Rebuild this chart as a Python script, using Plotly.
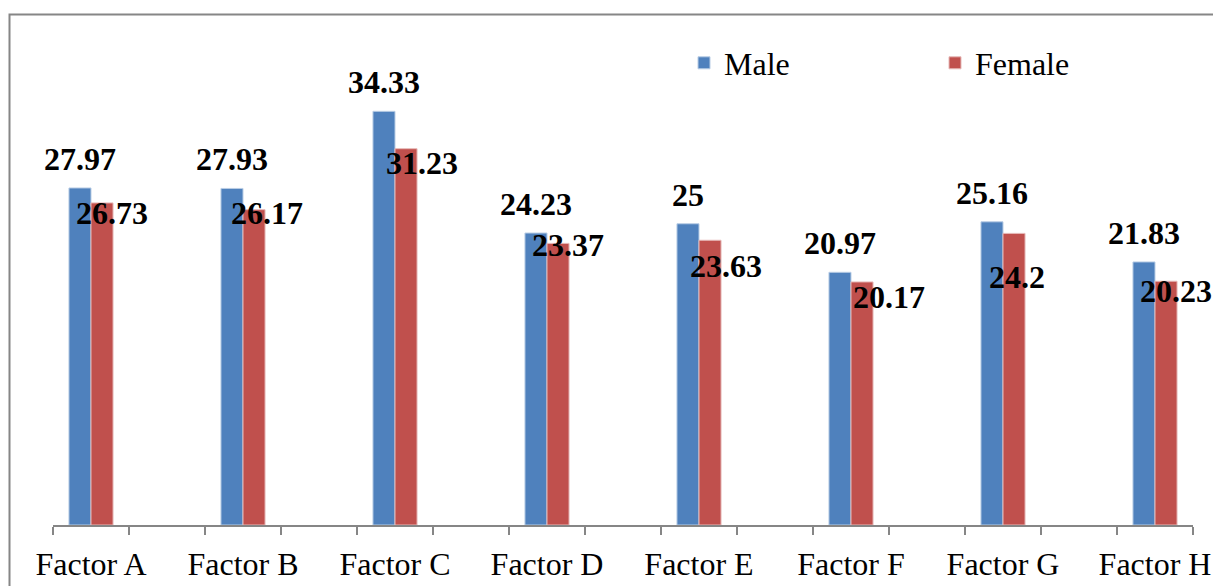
import plotly.graph_objects as go

# ---- data ----
categories = ["Factor A", "Factor B", "Factor C", "Factor D",
              "Factor E", "Factor F", "Factor G", "Factor H"]
male = [27.97, 27.93, 34.33, 24.23, 25, 20.97, 25.16, 21.83]
female = [26.73, 26.17, 31.23, 23.37, 23.63, 20.17, 24.2, 20.23]

# ---- label placement (pixel offsets, style only) ----
male_label_dy = [29] * 8
female_label_dx = [10, 13, 16, 10, 16, 27, 3, 10]
female_label_dy = [10, 3, 14, 2, 26, 15, 44, 10]

MALE_COLOR = "#4F81BD"
FEMALE_COLOR = "#C0504D"
AXIS_COLOR = "#868686"
FONT = "Liberation Serif"
FS = 32

# category order with blank spacer categories between factors
cat_order = []
for i, c in enumerate(categories):
    cat_order.append(c)
    if i < len(categories) - 1:
        cat_order.append(" " * (i + 1))

fig = go.Figure()
fig.add_trace(go.Bar(name="Male", x=categories, y=male,
                     marker=dict(color=MALE_COLOR, line=dict(color="#B9CDE5", width=1))))
fig.add_trace(go.Bar(name="Female", x=categories, y=female,
                     marker=dict(color=FEMALE_COLOR, line=dict(color="#E6B9B8", width=1))))

annotations = []
for i, c in enumerate(categories):
    annotations.append(dict(
        x=c, y=male[i], xref="x", yref="y", text=f"<b>{male[i]:g}</b>",
        showarrow=False, xshift=-11, yshift=male_label_dy[i],
        xanchor="center", yanchor="middle",
        font=dict(family=FONT, size=FS, color="black")))
    annotations.append(dict(
        x=c, y=female[i], xref="x", yref="y", text=f"<b>{female[i]:g}</b>",
        showarrow=False, xshift=11 + female_label_dx[i], yshift=-female_label_dy[i],
        xanchor="center", yanchor="middle",
        font=dict(family=FONT, size=FS, color="black")))

# page body has an 8px default margin, so figure coords = screen coords - 8
W, H = 1221, 586
ML, MR, MT, MB = 45, 36, 35, 69
pw = W - ML - MR
ph = H - MT - MB

fig.update_layout(
    width=W, height=H,
    margin=dict(l=ML, r=MR, t=MT, b=MB, pad=0, autoexpand=False),
    paper_bgcolor="white", plot_bgcolor="white",
    barmode="group", bargap=0.42, bargroupgap=0,
    font=dict(family=FONT, size=FS, color="black"),
    showlegend=True,
    legend=dict(orientation="h", x=(676 - ML) / pw, y=0.9585,
                xanchor="left", yanchor="middle",
                font=dict(family=FONT, size=FS, color="black"),
                entrywidth=206, entrywidthmode="pixels",
                bgcolor="rgba(0,0,0,0)", borderwidth=0),
    xaxis=dict(type="category", categoryorder="array", categoryarray=cat_order,
               range=[-0.5, len(cat_order) - 0.5],
               showline=True, linecolor=AXIS_COLOR, linewidth=1.5,
               ticks="outside", tickson="boundaries", ticklen=8,
               tickcolor=AXIS_COLOR, tickwidth=1.5, tickangle=0,
               ticklabelstandoff=10,
               automargin=False,
               showgrid=False, zeroline=False,
               tickfont=dict(family=FONT, size=FS, color="black")),
    yaxis=dict(range=[0, 40], visible=False, showgrid=False, zeroline=False,
               automargin=False),
    annotations=annotations,
    shapes=[dict(type="rect", xref="paper", yref="paper",
                 x0=(1.5 - ML) / pw, x1=(W + 20 - ML) / pw,
                 y0=-(H + 20 - (H - MB)) / ph, y1=((H - MB) - 6.5) / ph,
                 line=dict(color=AXIS_COLOR, width=2), fillcolor="rgba(0,0,0,0)",
                 layer="below")],
)

fig.write_html("out.html")
